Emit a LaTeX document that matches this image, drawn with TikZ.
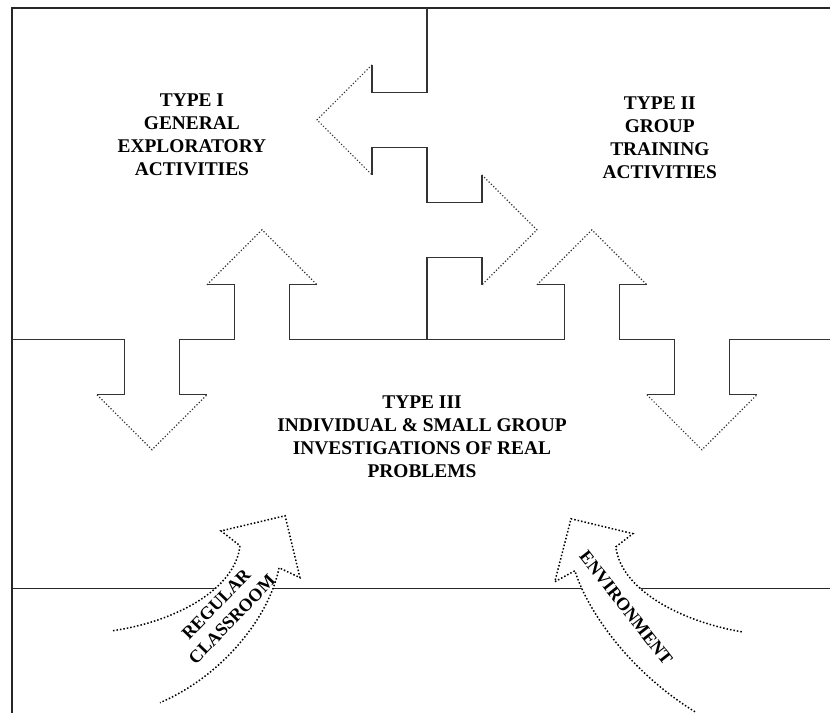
\documentclass[tikz,border=0pt]{standalone}
\usepackage{fontspec}
\setmainfont{Liberation Serif}
\begin{document}
\begin{tikzpicture}[x=13.75pt, y=13.75pt]
\tikzset{ frame/.style={line width=0.7pt, black!85},
  edge/.style={line width=0.6pt, black!80},
  slant/.style={line width=0.6pt, black!80, densely dotted},
  flow/.style={line width=0.75pt, black, densely dotted},
  typetext/.style={font=\bfseries\fontsize{9.7}{11.5}\selectfont, align=center, inner sep=0pt},
  flowtext/.style={font=\bfseries\fontsize{9}{11}\selectfont, align=center, inner sep=0pt}, }

\useasboundingbox (-15.53,-13.56) rectangle (14.66,12.36);

%\draw [lightgray, dashed] (-15,-13) grid (14,12);

\draw [frame] (14.66,12.07) -- (-15.09,12.07) -- (-15.09,-13.56);
\draw [frame] (-15.09,-9.05) -- (14.66,-9.05);

% type I / type II
\draw [edge]  (0,12.07) -- (0,9) -- (-2,9) -- (-2,10);
\draw [slant] (-2,10) -- (-4,8) -- (-2,6);
\draw [edge]  (-2,6) -- (-2,7) -- (0,7) -- (0,5) -- (2,5) -- (2,6);
\draw [slant] (2,6) -- (4,4) -- (2,2);
\draw [edge]  (2,2) -- (2,3) -- (0,3) -- (0,0);

% type III
\draw [edge]  (-15.09,0) -- (-11,0) -- (-11,-2) -- (-12,-2);
\draw [slant] (-12,-2) -- (-10,-4) -- (-8,-2);
\draw [edge]  (-8,-2) -- (-9,-2) -- (-9,0) -- (-7,0) -- (-7,2) -- (-8,2);
\draw [slant] (-8,2) -- (-6,4) -- (-4,2);
\draw [edge]  (-4,2) -- (-5,2) -- (-5,0) -- (5,0) -- (5,2) -- (4,2);
\draw [slant] (4,2) -- (6,4) -- (8,2);
\draw [edge]  (8,2) -- (7,2) -- (7,0) -- (9,0) -- (9,-2) -- (8,-2);
\draw [slant] (8,-2) -- (10,-4) -- (12,-2);
\draw [edge]  (12,-2) -- (11,-2) -- (11,0) -- (14.66,0);

\node [typetext] (T1) at (-8.55,7.45) {TYPE I\\GENERAL\\EXPLORATORY\\ACTIVITIES};
\node [typetext] (T2) at (8.47,7.35) {TYPE II\\GROUP\\TRAINING\\ACTIVITIES};
\node [typetext] (T3) at (-0.18,-3.53) {TYPE III\\INDIVIDUAL \& SMALL GROUP\\INVESTIGATIONS OF REAL\\PROBLEMS};

% regular classroom
\coordinate (RA) at (-11.42,-10.58);
\coordinate (RJ) at (-6.80,-7.49);
\coordinate (RB) at (-7.49,-6.95);
\coordinate (RT) at (-5.16,-6.40);
\coordinate (RC) at (-4.62,-8.65);
\coordinate (RK) at (-5.38,-8.29);
\coordinate (RE) at (-9.71,-13.20);
\fill [white] (RA) .. controls (-9.16,-10.25) and (-6.98,-9.09) .. (RJ) -- (RB) -- (RT) -- (RC) -- (RK)
  .. controls (-5.71,-10.00) and (-7.35,-12.18) .. (RE) -- cycle;
\draw [flow] (RA) .. controls (-9.16,-10.25) and (-6.98,-9.09) .. (RJ) -- (RB) -- (RT) -- (RC) -- (RK)
  .. controls (-5.71,-10.00) and (-7.35,-12.18) .. (RE);

% environment
\coordinate (EA) at (11.45,-10.62);
\coordinate (EJ) at (6.87,-7.53);
\coordinate (EB) at (7.49,-7.05);
\coordinate (ET) at (5.24,-6.51);
\coordinate (EC) at (4.65,-8.80);
\coordinate (EK) at (5.38,-8.40);
\coordinate (EE) at (9.75,-13.53);
\fill [white] (EA) .. controls (9.24,-10.25) and (7.05,-9.09) .. (EJ) -- (EB) -- (ET) -- (EC) -- (EK)
  .. controls (5.85,-9.89) and (7.38,-12.07) .. (EE) -- cycle;
\draw [flow] (EA) .. controls (9.24,-10.25) and (7.05,-9.09) .. (EJ) -- (EB) -- (ET) -- (EC) -- (EK)
  .. controls (5.85,-9.89) and (7.38,-12.07) .. (EE);

\node [flowtext, rotate=46] (L1) at (-7.38,-9.89) {REGULAR\\CLASSROOM};
\node [flowtext, rotate=-52] (L2) at (7.24,-9.75) {ENVIRONMENT};
\end{tikzpicture}
\end{document}
